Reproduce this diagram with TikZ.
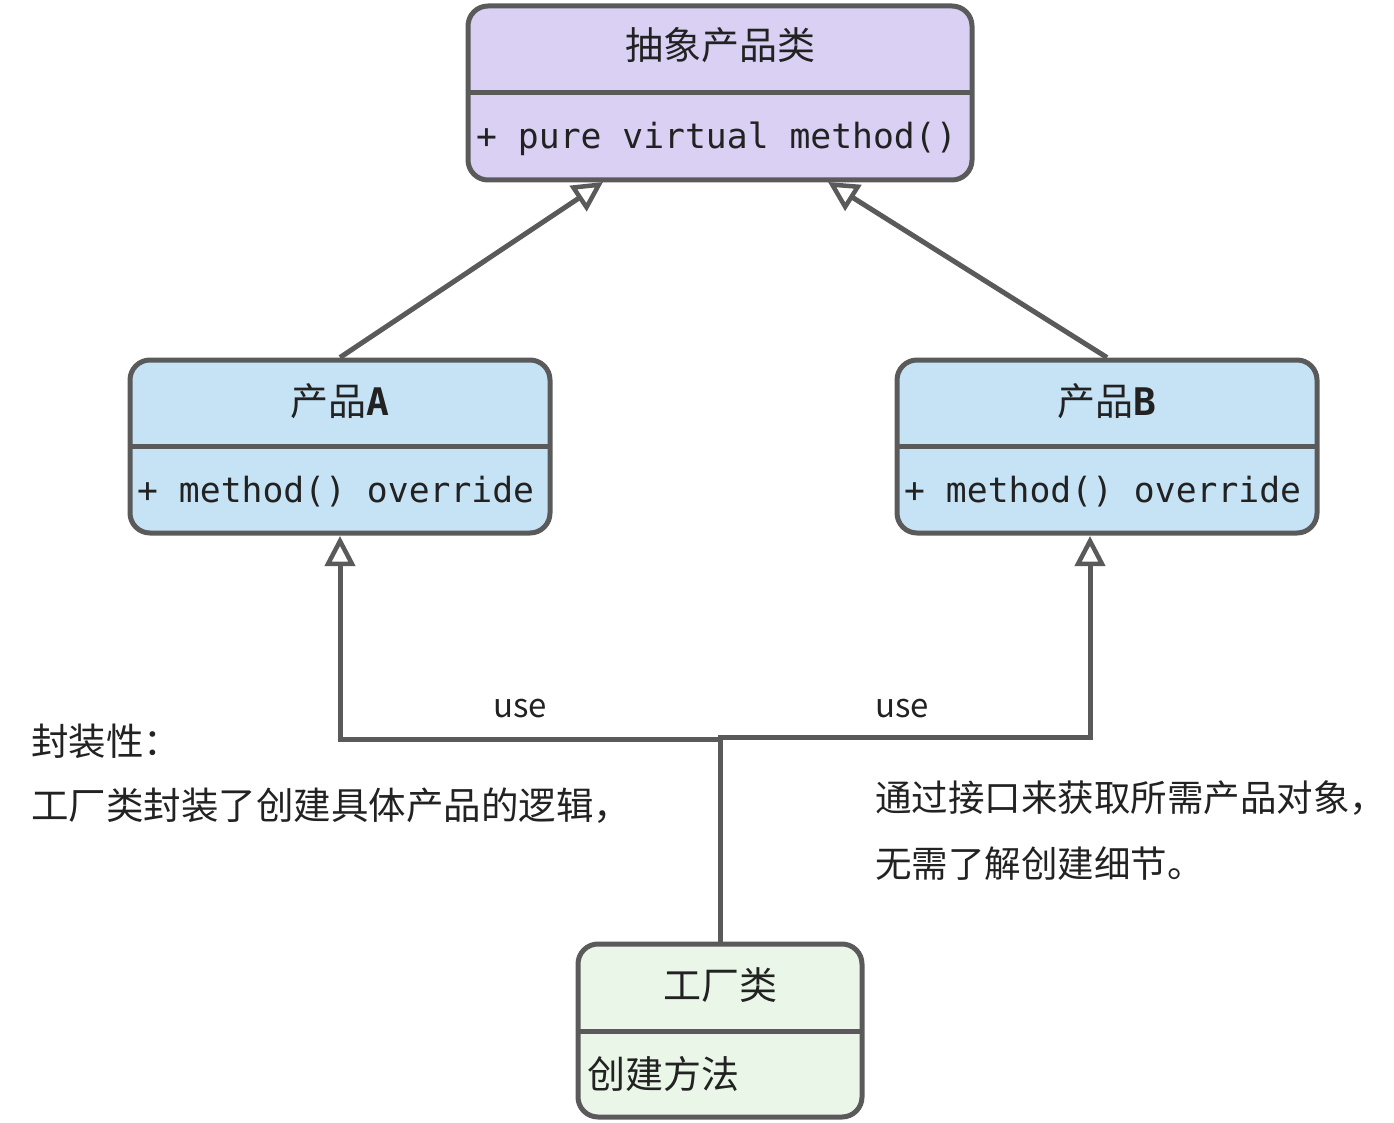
\documentclass[tikz,border=0pt]{standalone}
\usepackage{fontspec}
\setmainfont{Noto Sans CJK SC}
\newfontfamily\cjk{Noto Sans CJK SC}
\newfontfamily\monof{DejaVu Sans Mono}
\usetikzlibrary{arrows.meta}
\definecolor{linec}{HTML}{5A5A5A}
\definecolor{purplef}{HTML}{DAD0F3}
\definecolor{bluef}{HTML}{C5E3F5}
\definecolor{greenf}{HTML}{E9F6E8}
\definecolor{txt}{HTML}{222222}
\tikzset{
  classbox/.style={draw=linec, line width=5pt, rounded corners=20pt, inner sep=0pt},
  divider/.style={draw=linec, line width=5pt},
  titletxt/.style={inner sep=0pt, text=txt, font=\cjk\fontsize{38}{42}\selectfont},
  monotxt/.style={inner sep=0pt, anchor=west, text=txt, font=\monof\fontsize{34.7}{40}\selectfont},
  methtxt/.style={inner sep=0pt, anchor=west, text=txt, font=\cjk\fontsize{38}{42}\selectfont},
  notetxt/.style={inner sep=0pt, anchor=west, text=txt, font=\cjk\fontsize{37.5}{42}\selectfont},
  usetxt/.style={inner sep=0pt, text=txt, font=\cjk\fontsize{33}{38}\selectfont},
  conn/.style={draw=linec, line width=5pt},
  inherit/.style={conn, -{Triangle[open, length=30pt, width=30pt, line width=4.5pt]}},
}
\begin{document}
\begin{tikzpicture}[x=1pt, y=-1pt]
\useasboundingbox (0,0) rectangle (1394,1123);
% abstract product
\node[classbox, fill=purplef, minimum width=504pt, minimum height=174pt] (abs) at (720,93) {};
\draw[divider] (468,93) -- (972,93);
\node[titletxt] (absT) at (720,45) {抽象产品类};
\node[monotxt] (absM) at (476,139) {+ pure virtual method()};
% product A
\node[classbox, fill=bluef, minimum width=420pt, minimum height=173pt] (pa) at (340,446.5) {};
\draw[divider] (130,446) -- (550,446);
\node[titletxt] (paT) at (340,401) {产品{\monof\bfseries A}};
\node[monotxt] (paM) at (137,492) {+ method() override};
% product B
\node[classbox, fill=bluef, minimum width=420pt, minimum height=173pt] (pb) at (1107,446.5) {};
\draw[divider] (897,446) -- (1317,446);
\node[titletxt] (pbT) at (1107,401) {产品{\monof\bfseries B}};
\node[monotxt] (pbM) at (904,492) {+ method() override};
% factory
\node[classbox, fill=greenf, minimum width=284pt, minimum height=173pt] (fac) at (720,1030.5) {};
\draw[divider] (578,1031) -- (862,1031);
\node[titletxt] (facT) at (720,985) {工厂类};
\node[methtxt] (facM) at (587,1074) {创建方法};
% inheritance arrows
\coordinate (absL) at (603,182);
\coordinate (absR) at (828,182);
\draw[inherit] (pa.north) -- (absL);
\draw[inherit] (pb.north) -- (absR);
% use connectors
\coordinate (j) at (720,738);
\coordinate (jL) at (340,739);
\coordinate (jR) at (1090,737);
\coordinate (paUse) at (340,536);
\coordinate (pbUse) at (1090,536);
\draw[conn] (fac.north) -- (j);
\draw[inherit] (j) -- (720,739) -- (jL) -- (paUse);
\draw[inherit] (j) -- (720,737) -- (jR) -- (pbUse);
\node[usetxt] (useL) at (520,709) {use};
\node[usetxt] (useR) at (902,709) {use};
% notes
\node[notetxt] (n1) at (31,741) {封装性：};
\node[notetxt] (n2) at (31,806) {工厂类封装了创建具体产品的逻辑，};
\node[notetxt, font=\cjk\fontsize{36.5}{42}\selectfont] (n3) at (875,798) {通过接口来获取所需产品对象，};
\node[notetxt, font=\cjk\fontsize{36.5}{42}\selectfont] (n4) at (875,864) {无需了解创建细节。};
\end{tikzpicture}
\end{document}
